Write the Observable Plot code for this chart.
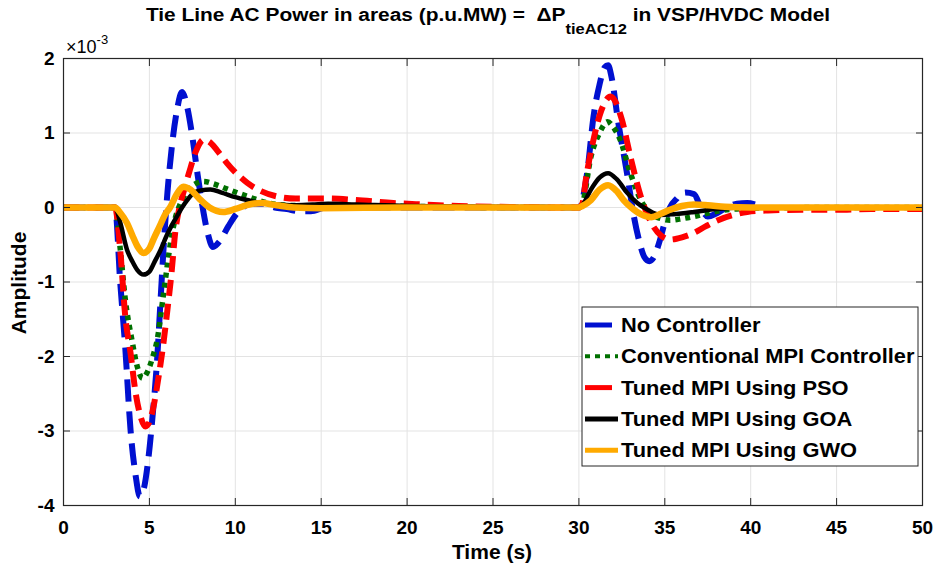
<!DOCTYPE html>
<html>
<head>
<meta charset="utf-8">
<script src="https://cdn.jsdelivr.net/npm/d3@7"></script>
<script src="https://cdn.jsdelivr.net/npm/@observablehq/plot@0.6"></script>
<style>
  html, body { margin: 0; padding: 0; background: #fff; }
  svg { font-family: "Liberation Sans", Arial, sans-serif; }
</style>
</head>
<body>
<div id="chart"></div>
<script>
// ---- data (values in units of 1e-3) ----
const xTicks = [0, 5, 10, 15, 20, 25, 30, 35, 40, 45, 50];
const yTicks = [-4, -3, -2, -1, 0, 1, 2];

const seriesNames = ["No Controller", "Conventional MPI Controller", "Tuned MPI Using PSO", "Tuned MPI Using GOA", "Tuned MPI Using GWO"];

const noCtrlT = [0,3,3.3,3.6,3.9,4.2,4.45,4.7,4.95,5.2,5.45,5.65,5.85,6.05,6.3,6.6,6.9,7.2,7.5,7.8,8.1,8.4,8.7,9.1,9.6,10.2,10.9,11.6,12.3,13.0,13.7,14.4,15.2,16,17,18,25,30,30.2,30.5,30.85,31.2,31.5,31.7,31.9,32.3,32.8,33.2,33.5,33.8,34.1,34.4,34.7,35.0,35.3,35.7,36.2,36.7,37.1,37.5,38.0,38.6,39.2,39.8,40.3];
const noCtrlV = [0,0,-1.0,-1.9,-2.98,-3.6,-3.88,-3.75,-3.35,-2.76,-2.04,-1.24,-0.45,0.2,0.8,1.3,1.55,1.35,0.95,0.45,0.0,-0.35,-0.53,-0.45,-0.25,-0.05,0.05,0.05,0.0,-0.02,-0.05,-0.05,0.0,0.02,0.0,0.0,0.0,0,0.1,0.5,1.22,1.65,1.88,1.91,1.75,1.13,0.46,-0.12,-0.44,-0.66,-0.72,-0.65,-0.45,-0.2,0.0,0.12,0.2,0.18,0.0,-0.12,-0.08,0.0,0.05,0.06,0.04];

const convT = [0,3,3.3,3.6,4.0,4.3,4.6,4.9,5.2,5.45,5.8,6.2,6.5,6.8,7.2,7.7,8.15,8.7,9.5,10.7,11.9,13,15,18,22,25,30,30.2,30.7,31.2,31.67,32.0,32.4,33.0,33.6,34.2,34.8,35.3,36.0,36.7,37.6,38.6,40,45,50];
const convV = [0,0,-0.55,-1.24,-1.8,-2.14,-2.29,-2.2,-2.0,-1.78,-1.2,-0.52,-0.15,0.05,0.22,0.32,0.35,0.32,0.25,0.15,0.06,0.03,0.02,0.02,0.01,0,0,0.05,0.68,1.0,1.15,1.08,0.91,0.46,0.1,-0.08,-0.15,-0.17,-0.15,-0.12,-0.07,-0.03,-0.01,0,0];

const psoT = [0,3,3.3,3.6,3.9,4.2,4.48,4.77,5.05,5.3,5.55,5.8,6.05,6.3,6.5,6.75,7.0,7.3,7.7,8.15,8.6,9.0,9.5,10.1,10.7,11.5,12.4,13.5,15.4,17,19.2,21,23,25,30,30.2,30.4,30.85,31.3,31.85,32.5,33.0,33.6,34.0,34.35,34.8,35.3,36.0,36.7,37.4,38.1,39.0,39.8,41,43,45,47,50];
const psoV = [0,0,-0.57,-1.47,-1.95,-2.49,-2.8,-2.94,-2.85,-2.6,-2.25,-1.85,-1.37,-0.85,-0.34,0.0,0.22,0.46,0.75,0.91,0.86,0.75,0.6,0.45,0.33,0.22,0.15,0.12,0.12,0.1,0.06,0.04,0.02,0.01,0,0.05,0.37,0.91,1.3,1.49,1.18,0.68,0.15,-0.1,-0.26,-0.38,-0.43,-0.4,-0.34,-0.25,-0.17,-0.1,-0.06,-0.04,-0.03,-0.03,-0.02,-0.02];

const goaT = [0,3,3.3,3.7,4.0,4.3,4.66,5.0,5.3,5.65,6.0,6.3,6.6,6.9,7.2,7.6,8.0,8.55,9.2,10.0,10.7,11.5,12.4,13.4,14.5,15.4,17,20,25,30,30.2,30.7,31.2,31.7,32.2,32.8,33.4,34.0,34.75,35.5,36.7,38,40,45,50];
const goaV = [0,0,-0.2,-0.57,-0.72,-0.84,-0.9,-0.86,-0.73,-0.57,-0.38,-0.24,-0.12,0.0,0.1,0.2,0.23,0.24,0.2,0.14,0.1,0.06,0.04,0.03,0.04,0.05,0.04,0.02,0.01,0,0.03,0.24,0.4,0.46,0.38,0.2,0.06,-0.03,-0.1,-0.09,-0.06,-0.02,0,0,0];

const gwoT = [0,3,3.3,3.7,4.0,4.3,4.66,5.0,5.25,5.6,5.9,6.2,6.6,6.97,7.4,7.9,8.5,9.3,10.0,10.8,11.5,12.4,13.4,15,20,30,30.2,30.7,31.2,31.7,32.2,32.6,33.0,33.6,34.2,34.8,35.3,36.0,36.7,37.5,38.5,40,45,50];
const gwoV = [0,0,-0.07,-0.21,-0.37,-0.52,-0.61,-0.55,-0.42,-0.25,-0.1,0.0,0.18,0.28,0.24,0.12,0.0,-0.06,-0.02,0.04,0.06,0.03,0.0,-0.01,0,0,0.02,0.1,0.24,0.3,0.22,0.1,0.01,-0.09,-0.13,-0.08,-0.03,0.02,0.04,0.03,0.01,0,0,0];

// ---- styles ----
const styles = [
  {stroke: "#0010d0", strokeWidth: 6, dash: "22,10"},
  {stroke: "#007000", strokeWidth: 5.5, dash: "5,5"},
  {stroke: "#ff0000", strokeWidth: 6, dash: "16,8"},
  {stroke: "#000000", strokeWidth: 4.5, dash: null},
  {stroke: "#ffaa00", strokeWidth: 6.5, dash: null}
];

const mk = (ts, vs) => ts.map((t, i) => ({t, v: vs[i]}));
const series = [mk(noCtrlT, noCtrlV), mk(convT, convV), mk(psoT, psoV), mk(goaT, goaV), mk(gwoT, gwoV)];

const W = 936, H = 568;
const mL = 63, mR = 14, mT = 58, mB = 63;

const lineMarks = series.map((d, i) => Plot.line(d, {
  x: "t", y: "v", stroke: styles[i].stroke, strokeWidth: styles[i].strokeWidth,
  strokeDasharray: styles[i].dash ?? undefined, curve: "monotone-x", strokeLinecap: "butt", strokeLinejoin: "round"
}));

const fmt = d => String(d);

const chart = Plot.plot({
  width: W, height: H,
  marginLeft: mL, marginRight: mR, marginTop: mT, marginBottom: mB,
  style: {fontFamily: "'Liberation Sans', Arial, sans-serif", fontSize: "19px", fontWeight: "bold", color: "#000", background: "#fff"},
  x: {domain: [0, 50]},
  y: {domain: [-4, 2]},
  marks: [
    Plot.gridX(xTicks, {stroke: "#e3e3e3", strokeOpacity: 1, strokeWidth: 1}),
    Plot.gridY(yTicks, {stroke: "#e3e3e3", strokeOpacity: 1, strokeWidth: 1}),
    ...lineMarks,
    Plot.axisX(xTicks, {anchor: "bottom", tickSize: 0, tickPadding: 15, label: null, fill: "#000", tickFormat: fmt}),
    Plot.axisY(yTicks, {anchor: "left", tickSize: 0, tickPadding: 9, label: null, fill: "#000", tickFormat: fmt}),
    Plot.axisX(xTicks, {anchor: "bottom", tickSize: -7, text: null, label: null, stroke: "#262626"}),
    Plot.axisX(xTicks, {anchor: "top", tickSize: -7, text: null, label: null, stroke: "#262626"}),
    Plot.axisY(yTicks, {anchor: "left", tickSize: -7, text: null, label: null, stroke: "#262626"}),
    Plot.axisY(yTicks, {anchor: "right", tickSize: -7, text: null, label: null, stroke: "#262626"}),
    Plot.frame({stroke: "#262626", strokeWidth: 1.2})
  ]
});

document.getElementById("chart").appendChild(chart);

// ---- annotations: title, axis labels, exponent, legend ----
const svg = d3.select(chart);
const ff = "'Liberation Sans', Arial, sans-serif";

const tcx = 488;
const title = svg.append("text")
  .attr("transform", `translate(${tcx},21) scale(1.1,1)`)
  .attr("text-anchor", "middle").attr("font-family", ff)
  .attr("font-size", 19).attr("font-weight", "bold").attr("fill", "#000");
title.append("tspan").text("Tie Line AC Power in areas (p.u.MW) =  \u0394P");
title.append("tspan").attr("font-size", 15).attr("dy", 13).text("tieAC12");
title.append("tspan").attr("dy", -13).text(" in VSP/HVDC Model");

const expo = svg.append("text")
  .attr("x", 66).attr("y", 53).attr("font-family", ff).attr("text-anchor", "start")
  .attr("font-size", 18).attr("font-weight", "normal").attr("fill", "#000");
expo.append("tspan").text("\u00d710");
expo.append("tspan").attr("font-size", 13).attr("dy", -9).text("-3");

svg.append("text")
  .attr("x", 492).attr("y", 559)
  .attr("text-anchor", "middle").attr("font-family", ff)
  .attr("font-size", 21).attr("font-weight", "bold").attr("fill", "#000")
  .text("Time (s)");

svg.append("text")
  .attr("transform", `translate(26, 283) rotate(-90)`)
  .attr("text-anchor", "middle").attr("font-family", ff)
  .attr("font-size", 21).attr("font-weight", "bold").attr("fill", "#000")
  .text("Amplitude");

// legend
const lg = svg.append("g");
const lgX = 582, lgY = 307, lgW = 336, lgH = 159;
lg.append("rect").attr("x", lgX).attr("y", lgY).attr("width", lgW).attr("height", lgH)
  .attr("fill", "#fff").attr("stroke", "#262626").attr("stroke-width", 1);
const sampleLen = [27, 33, 27, 33, 33];
seriesNames.forEach((name, i) => {
  const cy = lgY + 18 + i * 31.3;
  lg.append("line").attr("x1", lgX + 3).attr("x2", lgX + 3 + sampleLen[i])
    .attr("y1", cy).attr("y2", cy)
    .attr("stroke", styles[i].stroke).attr("stroke-width", i === 1 ? 4 : 5)
    .attr("stroke-dasharray", i === 1 ? "5,5" : null);
  lg.append("text").attr("transform", `translate(${lgX + 39},${cy}) scale(1.12,1)`).attr("dy", "0.36em")
    .attr("text-anchor", "start")
    .attr("font-family", ff).attr("font-size", 19.5).attr("font-weight", "bold").attr("fill", "#000")
    .text(name);
});
</script>
</body>
</html>
